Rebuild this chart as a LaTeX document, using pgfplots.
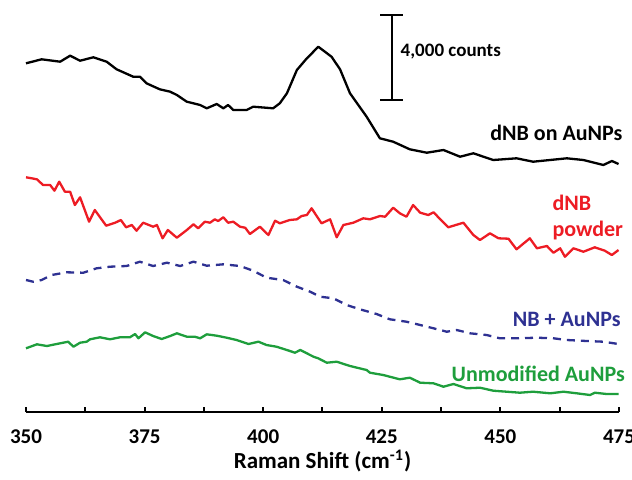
\documentclass[border=0pt]{standalone}
\usepackage{pgfplots}
\pgfplotsset{compat=1.18}
\usepackage{fontspec}
\setmainfont{Carlito}

\definecolor{spred}{HTML}{ED1C24}
\definecolor{spblue}{HTML}{2E3192}
\definecolor{spgreen}{HTML}{1E9E3C}

\begin{document}
\begin{tikzpicture}
\begin{axis}[
    scale only axis,
    width=296.5pt, height=206pt,
    xmin=350, xmax=475,
    ymin=0, ymax=412,
    axis x line*=bottom,
    axis y line=none,
    clip=false,
    xtick={350,375,...,475},
    minor xtick={362.5,387.5,...,462.5},
    tick align=inside,
    major tick length=2.5pt,
    minor tick length=2.5pt,
    axis line style={line width=1.1pt},
    every tick/.style={black, line width=1pt},
    /pgf/number format/assume math mode=true,
    /pgf/number format/set thousands separator={},
    xticklabel style={font=\bfseries\fontsize{10.5}{12}\selectfont, yshift=-5.5pt},
    xlabel={Raman Shift (cm\textsuperscript{-1})},
    xlabel style={font=\bfseries\fontsize{11.5}{13}\selectfont,
        at={(axis description cs:0.5,0)}, anchor=center, yshift=-24.5pt},
    every axis plot/.append style={line width=1.15pt, line join=round},
]

% dNB on AuNPs
\addplot[black] coordinates {
(350.0,348.7) (353.3,352.7) (357.2,350.3) (359.3,356.3) (361.4,351.3)
(364.2,354.7) (367.0,350.3) (369.1,342.7) (372.6,335.3) (374.0,335.3)
(375.4,328.7) (378.2,322.7) (380.4,320.3) (381.8,317.0) (383.9,310.3)
(386.7,307.0) (388.1,303.7) (390.2,308.0) (391.6,303.7) (392.6,307.0)
(393.7,302.0) (396.5,302.0) (397.9,305.3) (402.1,303.7) (403.5,308.7)
(405.0,318.7) (407.1,342.0) (409.2,353.7) (411.3,363.7) (411.6,365.3)
(414.4,355.3) (416.2,342.7) (418.3,318.7) (421.8,295.3) (424.6,273.7)
(427.4,270.3) (430.9,262.7) (434.5,259.3) (438.0,262.0) (441.5,255.3)
(444.3,258.7) (448.5,252.0) (453.4,253.7) (456.9,250.3) (464.0,253.7)
(467.5,252.0) (471.7,247.0) (473.5,251.0) (474.9,248.0)
};

% dNB powder
\addplot[spred] coordinates {
(350.0,234.7) (351.2,233.7) (352.3,232.7) (353.6,227.0) (355.1,227.0)
(356.0,221.3) (357.0,230.3) (358.2,220.3) (359.3,220.3) (360.3,207.0)
(361.4,214.7) (363.3,190.3) (364.5,202.0) (366.9,186.3) (368.8,189.3)
(370.0,192.0) (371.1,184.7) (372.3,187.0) (373.3,181.3) (374.7,189.3)
(376.8,185.3) (377.6,187.0) (378.8,173.7) (379.9,182.0) (381.8,174.3)
(383.9,182.0) (385.3,187.7) (386.3,183.7) (387.7,190.3) (388.8,189.3)
(389.8,192.7) (390.5,191.0) (391.6,194.7) (392.6,189.3) (393.7,190.3)
(395.1,185.3) (396.2,184.3) (397.2,178.0) (399.3,185.3) (401.1,177.0)
(402.5,191.3) (403.5,188.7) (405.6,192.0) (407.1,192.7) (408.1,196.0)
(409.2,197.0) (410.2,203.7) (412.3,188.7) (414.1,192.7) (415.5,174.7)
(416.9,187.0) (419.0,189.3) (421.1,193.7) (422.5,192.7) (424.6,196.0)
(425.7,195.3) (427.4,204.3) (428.8,198.7) (430.2,195.3) (431.6,207.0)
(433.1,199.3) (434.8,197.0) (435.9,199.7) (439.0,184.7) (442.2,189.3)
(444.3,177.0) (445.7,172.0) (447.8,178.7) (449.6,173.7) (451.7,173.3)
(453.4,162.7) (456.2,173.7) (457.7,163.7) (459.8,166.0) (461.2,159.3)
(462.6,163.7) (463.6,155.3) (465.4,163.7) (467.5,160.3) (469.9,164.7)
(472.0,161.3) (473.5,157.0) (474.9,162.0)
};

% NB + AuNPs
\addplot[spblue, dash pattern=on 4pt off 3pt] coordinates {
(350.0,132.0) (351.5,130.3) (353.3,132.0) (355.4,137.0) (358.6,139.7)
(362.1,139.3) (364.9,143.7) (367.7,145.3) (371.2,146.0) (374.0,150.3)
(376.8,146.0) (379.7,149.3) (382.5,146.0) (385.3,150.3) (388.1,146.3)
(391.6,147.7) (395.1,146.0) (397.9,141.3) (400.7,134.3) (404.2,132.0)
(407.1,125.3) (409.9,120.3) (412.0,115.3) (414.8,113.7) (417.6,107.0)
(420.4,102.7) (423.9,98.0) (426.7,92.7) (430.2,90.3) (433.1,87.0)
(435.9,83.7) (438.7,80.3) (440.8,82.0) (443.6,78.7) (447.1,77.0)
(449.9,73.7) (453.4,73.7) (457.7,74.3) (461.2,73.7) (464.0,72.0)
(468.2,71.0) (471.7,70.3) (474.9,68.0)
};

% Unmodified AuNPs
\addplot[spgreen] coordinates {
(350.0,63.7) (352.3,67.7) (354.4,66.0) (357.2,68.7) (358.9,70.3)
(360.0,65.3) (361.4,69.3) (362.8,70.3) (363.5,72.7) (365.6,74.7)
(367.7,72.7) (369.8,74.7) (371.9,74.7) (373.0,78.0) (373.7,73.7)
(375.1,79.7) (376.8,76.0) (378.6,73.0) (380.4,76.0) (381.8,78.7)
(383.9,75.3) (385.6,75.3) (386.7,73.7) (388.1,77.7) (390.2,76.3)
(392.3,74.3) (394.4,72.0) (396.9,68.0) (399.0,70.3) (400.7,67.0)
(402.8,65.3) (405.0,62.0) (406.7,59.3) (407.8,62.0) (409.2,58.7)
(410.6,55.3) (411.6,53.7) (413.4,49.3) (415.5,50.3) (418.3,46.0)
(421.8,42.0) (422.5,39.3) (425.3,37.0) (428.8,32.7) (430.9,34.3)
(433.1,29.3) (435.9,28.7) (438.0,25.3) (440.1,28.0) (442.9,23.7)
(445.7,24.3) (448.5,21.3) (451.3,20.3) (454.1,19.3) (456.9,20.3)
(460.5,18.7) (463.3,20.3) (466.1,18.7) (468.9,17.0) (469.9,19.3)
(472.4,18.0) (474.9,18.0)
};

% scale bar
\draw[line width=1pt] (axis cs:427.1,312) -- (axis cs:427.1,397);
\draw[line width=1pt] (axis cs:424.7,312) -- (axis cs:429.5,312);
\draw[line width=1pt] (axis cs:424.7,397) -- (axis cs:429.5,397);
\node[anchor=west, inner sep=0pt, font=\bfseries\fontsize{9.5}{11}\selectfont]
    at (axis cs:428.9,360) {4,000 counts};

% series names
\node[anchor=base east, inner sep=0pt, font=\bfseries\fontsize{11}{13}\selectfont]
    at (axis cs:475.8,272) {dNB on AuNPs};
\node[anchor=base west, inner sep=0pt, text=spred, font=\bfseries\fontsize{11}{13}\selectfont]
    at (axis cs:460.9,202) {dNB};
\node[anchor=base west, inner sep=0pt, text=spred, font=\bfseries\fontsize{11}{13}\selectfont]
    at (axis cs:460.9,175.3) {powder};
\node[anchor=base east, inner sep=0pt, text=spblue, font=\bfseries\fontsize{11}{13}\selectfont]
    at (axis cs:475.4,86) {NB + AuNPs};
\node[anchor=base east, inner sep=0pt, text=spgreen, font=\bfseries\fontsize{11}{13}\selectfont]
    at (axis cs:476.3,30.3) {Unmodified AuNPs};

\coordinate (BL) at (axis cs:344.52,-67);
\coordinate (TR) at (axis cs:477.74,412);
\end{axis}
\pgfresetboundingbox
\path[use as bounding box] (BL) rectangle (TR);
\end{tikzpicture}
\end{document}
